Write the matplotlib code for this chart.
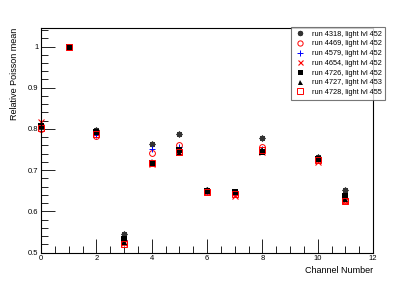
import matplotlib
matplotlib.use("Agg")
import matplotlib.pyplot as plt
from matplotlib.ticker import MultipleLocator

# channel numbers (channel 9 missing)
channels = [0, 1, 2, 3, 4, 5, 6, 7, 8, 10, 11]

run_4318 = [0.805, 1.0, 0.797, 0.546, 0.763, 0.787, 0.652, 0.648, 0.778, 0.731, 0.651]
run_4469 = [0.800, 1.0, 0.782, 0.525, 0.742, 0.762, 0.650, 0.645, 0.757, 0.725, 0.628]
run_4579 = [0.808, 1.0, 0.785, 0.530, 0.751, 0.755, 0.650, 0.643, 0.752, 0.726, 0.632]
run_4654 = [0.816, 1.0, 0.790, 0.522, 0.716, 0.745, 0.648, 0.638, 0.745, 0.720, 0.625]
run_4726 = [0.806, 1.0, 0.792, 0.532, 0.718, 0.750, 0.650, 0.646, 0.745, 0.728, 0.636]
run_4727 = [0.808, 1.0, 0.795, 0.525, 0.720, 0.742, 0.652, 0.648, 0.748, 0.730, 0.630]
run_4728 = [0.803, 1.0, 0.788, 0.520, 0.717, 0.745, 0.648, 0.642, 0.750, 0.724, 0.626]

labels = [
    "run 4318, light lvl 452",
    "run 4469, light lvl 452",
    "run 4579, light lvl 452",
    "run 4654, light lvl 452",
    "run 4726, light lvl 452",
    "run 4727, light lvl 453",
    "run 4728, light lvl 455",
]

plt.rcParams.update({
    "font.family": "Liberation Sans",
    "font.size": 5.5,
})

fig = plt.figure(figsize=(4.15, 2.81), dpi=100)
ax = fig.add_axes([0.0988, 0.1014, 0.800, 0.799])

RED = "#ff0000"
styles = [
    dict(marker=(8, 2, 0), color="#333333", ms=4.2, mew=0.9, mfc="none"),
    dict(marker="o", color=RED, ms=4.2, mew=0.7, mfc="none"),
    dict(marker="+", color="#0000ff", ms=4.5, mew=0.7),
    dict(marker="x", color=RED, ms=4, mew=0.8),
    dict(marker="s", color="black", ms=4, mew=0),
    dict(marker="^", color="black", ms=4, mew=0),
    dict(marker="s", color=RED, ms=4.6, mew=0.7, mfc="none"),
]
series = [run_4318, run_4469, run_4579, run_4654, run_4726, run_4727, run_4728]

for vals, lbl, st in zip(series, labels, styles):
    ax.plot(channels, vals, linestyle="none", label=lbl, clip_on=False, **st)

ax.set_xlim(0, 12)
ax.set_ylim(0.5, 1.045)
ax.xaxis.set_major_locator(MultipleLocator(2))
ax.xaxis.set_minor_locator(MultipleLocator(0.5))
ax.yaxis.set_minor_locator(MultipleLocator(0.02))
ax.set_yticks([0.5, 0.6, 0.7, 0.8, 0.9, 1.0])
ax.set_yticklabels(["0.5", "0.6", "0.7", "0.8", "0.9", "1"])
ax.tick_params(which="major", direction="in", length=10, width=0.6, pad=2)
ax.tick_params(which="minor", direction="in", length=5, width=0.6)
ax.tick_params(top=False, right=False)
for s in ax.spines.values():
    s.set_linewidth(0.8)

ax.set_xlabel("Channel Number", fontsize=6.5, ha="right", x=1.0, labelpad=3)
ax.set_ylabel("Relative Poisson mean", fontsize=6.5, ha="right", y=1.0, labelpad=6)

leg = ax.legend(loc="upper right", bbox_to_anchor=(1.037, 1.005), fontsize=5.3,
                frameon=True, fancybox=False, borderpad=0.5, handlelength=1.4,
                labelspacing=0.35, handletextpad=0.9, borderaxespad=0,
                markerscale=0.9)
leg.get_frame().set_edgecolor("#555555")
leg.get_frame().set_linewidth(0.8)

fig.savefig("out.png", dpi=100)
